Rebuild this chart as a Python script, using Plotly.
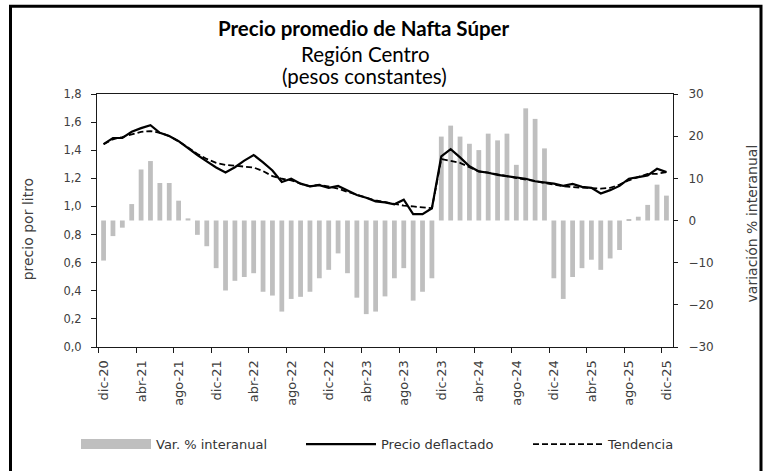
import plotly.graph_objects as go

# Monthly categories: dic-20 .. dic-25
MESES = ["ene", "feb", "mar", "abr", "may", "jun", "jul", "ago", "sep", "oct", "nov", "dic"]
meses = ["dic-20"] + [f"{m}-{a}" for a in range(21, 26) for m in MESES]

tick_labels = ["dic-20", "abr-21", "ago-21", "dic-21", "abr-22", "ago-22", "dic-22", "abr-23",
               "ago-23", "dic-23", "abr-24", "ago-24", "dic-24", "abr-25", "ago-25", "dic-25"]

# Year-on-year change (%), right axis
var_interanual = [
    -9.5, -3.7, -1.7, 3.9, 12.1, 14.1, 8.9, 8.9, 4.7, 0.5, -3.4, -6.1, -11.3,
    -16.6, -14.3, -13.4, -12.5, -16.9, -17.8, -21.6, -18.6, -18.1, -16.9, -13.7, -11.7,
    -7.8, -12.5, -18.3, -22.2, -21.6, -18.0, -13.7, -11.3, -19.0, -16.9, -13.7, 19.9,
    22.5, 19.9, 18.2, 16.7, 20.6, 19.0, 20.6, 13.2, 26.6, 24.1, 17.1, -13.7,
    -18.6, -13.4, -11.3, -9.3, -11.7, -9.0, -7.0, 0.3, 0.9, 3.7, 8.5, 5.9,
]

# Deflated price per litre, left axis
precio_deflactado = [
    1.443, 1.487, 1.487, 1.531, 1.557, 1.578, 1.524, 1.501, 1.464, 1.412, 1.366, 1.321, 1.277,
    1.242, 1.279, 1.326, 1.366, 1.314, 1.256, 1.174, 1.197, 1.162, 1.143, 1.151, 1.132,
    1.146, 1.111, 1.081, 1.062, 1.036, 1.029, 1.015, 1.048, 0.945, 0.945, 0.987, 1.356,
    1.408, 1.349, 1.286, 1.249, 1.240, 1.225, 1.216, 1.202, 1.197, 1.179, 1.169, 1.162,
    1.146, 1.160, 1.139, 1.132, 1.092, 1.116, 1.146, 1.197, 1.209, 1.221, 1.268, 1.244,
]

# Trend of the deflated price, left axis
tendencia = [
    1.443, 1.478, 1.494, 1.515, 1.531, 1.536, 1.524, 1.501, 1.464, 1.419, 1.373, 1.338, 1.310,
    1.296, 1.289, 1.284, 1.277, 1.251, 1.216, 1.197, 1.186, 1.162, 1.143, 1.155, 1.139,
    1.127, 1.104, 1.081, 1.062, 1.043, 1.029, 1.015, 1.006, 1.000, 0.992, 0.987, 1.338,
    1.326, 1.310, 1.279, 1.249, 1.240, 1.230, 1.216, 1.202, 1.193, 1.181, 1.167, 1.155,
    1.144, 1.137, 1.132, 1.127, 1.127, 1.132, 1.155, 1.186, 1.209, 1.232, 1.232, 1.244,
]

idx = list(range(len(meses)))
tick_pos = [i - 0.5 for i in range(0, len(meses), 4)]

# Canvas / plot-area geometry (pixels)
W_FIG, H_FIG = 764, 471
L, R, T, B = 97, 673, 94, 352


def px(xp):
    return (xp - L) / (R - L)


def py(yp):
    return (B - yp) / (B - T)


BAR_GRAY = "#BFBFBF"
AXIS = "#1a1a1a"
TXT = "#404040"
TICK_FONT = "DejaVu Sans"
TITLE_FONT = "Lato"

fig = go.Figure()

fig.add_trace(go.Bar(
    x=idx, y=var_interanual, yaxis="y", name="Var. % interanual",
    marker=dict(color=BAR_GRAY, line=dict(width=0)), showlegend=False,
))
# legend swatch for the bars (wide grey band)
fig.add_trace(go.Scatter(
    x=[None], y=[None], yaxis="y", mode="lines", name="Var. % interanual",
    line=dict(color=BAR_GRAY, width=10), legend="legend",
))
fig.add_trace(go.Scatter(
    x=idx, y=precio_deflactado, yaxis="y2", mode="lines", name="Precio deflactado",
    line=dict(color="black", width=2.2), legend="legend2",
))
fig.add_trace(go.Scatter(
    x=idx, y=tendencia, yaxis="y2", mode="lines", name="Tendencia",
    line=dict(color="black", width=1.8, dash="6px,3px"), legend="legend3",
))

legend_common = dict(
    orientation="v", xanchor="left", yanchor="middle", y=py(451),
    itemwidth=70, bgcolor="rgba(0,0,0,0)", borderwidth=0,
    font=dict(family=TICK_FONT, size=13, color="#333333"),
)


def label(text, xp, yp, size, family, color="black", angle=0):
    return dict(text=text, x=px(xp), y=py(yp), xref="paper", yref="paper",
                xanchor="center", yanchor="middle", showarrow=False, textangle=angle,
                font=dict(family=family, size=size, color=color))


fig.update_layout(
    width=W_FIG, height=H_FIG,
    margin=dict(l=L, r=W_FIG - R, t=T, b=H_FIG - B, pad=0),
    paper_bgcolor="white", plot_bgcolor="white",
    separators=",.",
    bargap=0.49,
    xaxis=dict(
        range=[-0.7, len(meses) - 1 + 0.7],
        tickmode="array", tickvals=tick_pos, ticktext=tick_labels,
        tickangle=-90, ticks="outside", ticklen=5, tickcolor=AXIS, tickwidth=1,
        ticklabelshift=5, ticklabelstandoff=2,
        showline=True, linecolor=AXIS, linewidth=1, mirror=True,
        showgrid=False, zeroline=False,
        tickfont=dict(family=TICK_FONT, size=13, color=TXT),
    ),
    yaxis=dict(
        side="right", anchor="x", range=[-30, 30],
        tickmode="array", tickvals=[-30, -20, -10, 0, 10, 20, 30],
        ticks="outside", ticklen=4, tickcolor=AXIS, ticklabelstandoff=8,
        showline=True, linecolor=AXIS, linewidth=1,
        showgrid=False, zeroline=False,
        tickfont=dict(family=TICK_FONT, size=12, color=TXT),
    ),
    yaxis2=dict(
        side="left", anchor="x", overlaying="y", range=[0, 1.8],
        tickmode="linear", tick0=0, dtick=0.2, tickformat=".1f",
        ticks="outside", ticklen=5, tickcolor=AXIS, ticklabelstandoff=7,
        showline=True, linecolor=AXIS, linewidth=1,
        showgrid=False, zeroline=False,
        tickfont=dict(family=TICK_FONT, size=11.5, color=TXT),
    ),
    legend=dict(legend_common, x=px(76)),
    legend2=dict(legend_common, x=px(301)),
    legend3=dict(legend_common, x=px(528)),
    annotations=[
        label("<b>Precio promedio de Nafta Súper</b>", 364, 27, 20.5, TITLE_FONT),
        label("Región Centro", 365.5, 53, 20.5, TITLE_FONT),
        label("(pesos constantes)", 364.5, 76, 20.5, TITLE_FONT),
        label("precio por litro", 28, 232, 14, TICK_FONT, TXT, -90),
        label("variación % interanual", 752, 226, 14, TICK_FONT, TXT, -90),
    ],
    shapes=[
        dict(type="rect", xref="paper", yref="paper",
             x0=px(10.5), x1=px(761), y0=py(485), y1=py(4.5),
             line=dict(color="black", width=3), fillcolor="rgba(0,0,0,0)", layer="below"),
    ],
)

fig.write_html("out.html")
